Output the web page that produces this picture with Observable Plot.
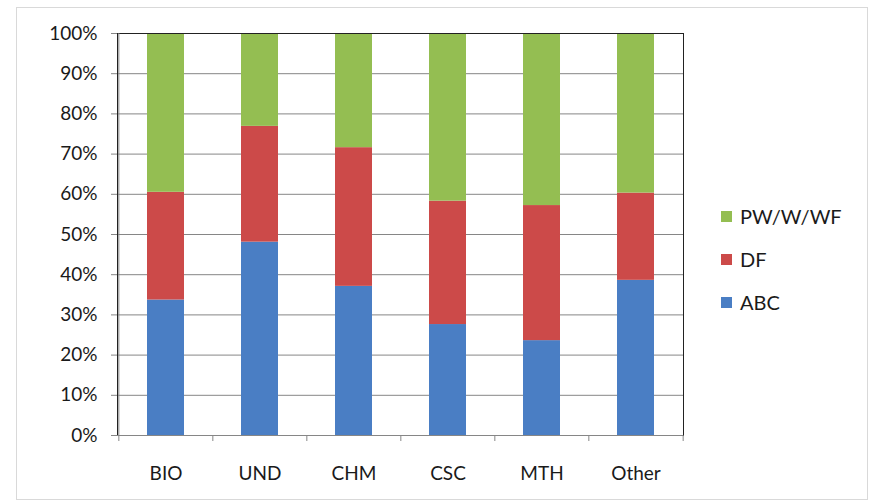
<!DOCTYPE html>
<html>
<head>
<meta charset="utf-8">
<script src="https://cdn.jsdelivr.net/npm/d3@7"></script>
<script src="https://cdn.jsdelivr.net/npm/@observablehq/plot@0.6"></script>
<style>
  html, body { margin: 0; padding: 0; background: #fff; }
  #chart { position: relative; width: 872px; height: 502px; font-family: Lato, "Open Sans", sans-serif; }
  #chart .border { position: absolute; left: 16px; top: 7px; width: 852px; height: 493px; border: 1px solid #d9d9d9; box-sizing: border-box; pointer-events: none; }
  #chart svg { position: absolute; left: 0; top: 0; }
  .legend { position: absolute; left: 721px; top: 0; font-size: 20px; color: #1a1a1a; }
  .legend .item { position: absolute; display: flex; align-items: center; white-space: nowrap; transform: translateY(-50%); }
  .legend .sw { width: 11px; height: 11px; margin-right: 8px; }
</style>
</head>
<body>
<div id="chart"><div class="border"></div></div>
<script>
// Departments along the x axis
const departments = ["BIO", "UND", "CHM", "CSC", "MTH", "Other"];
// Stacked series, bottom to top
const seriesNames = ["ABC", "DF", "PW/W/WF"];
const seriesColors = ["#4A7EC4", "#CC4A49", "#94BE52"];
// Share of each department in percent
const abc = [33.7, 48.1, 37.1, 27.6, 23.6, 38.6];
const df  = [26.8, 28.8, 34.5, 30.7, 33.6, 21.7];
const pw  = [39.5, 23.1, 28.4, 41.7, 42.8, 39.7];
// Y tick values
const yTicks = d3.range(0, 1.0001, 0.1);

const seriesValues = [abc, df, pw];
const rows = [];
seriesNames.forEach((s, i) => {
  departments.forEach((d, j) => rows.push({dept: d, series: s, value: seriesValues[i][j] / 100}));
});

const W = 872, H = 502, ML = 117, MR = 189, MT = 33, MB = 67;
const step = (W - ML - MR) / departments.length;
const gap = 0.61;

const plot = Plot.plot({
  width: W,
  height: H,
  marginLeft: ML,
  marginRight: MR,
  marginTop: MT,
  marginBottom: MB,
  style: {fontFamily: "Lato, 'Open Sans', sans-serif", fontSize: "19px", color: "#1a1a1a", background: "transparent"},
  x: {domain: departments, paddingInner: gap, paddingOuter: gap / 2, label: null},
  y: {domain: [0, 1], label: null},
  color: {domain: seriesNames, range: seriesColors},
  marks: [
    Plot.ruleY(yTicks, {stroke: "#868686", strokeWidth: 1}),
    Plot.barY(rows, {x: "dept", y: "value", fill: "series", order: seriesNames}),
    Plot.frame({stroke: "#222", strokeWidth: 1}),
    Plot.ruleX([departments[0]], {stroke: "#868686", dx: -step / 2}),
    Plot.ruleY([0], {stroke: "#868686"}),
    Plot.axisY(yTicks, {tickFormat: d3.format(".0%"), tickSize: 6, tickPadding: 14, stroke: "#868686", fill: "#1a1a1a", label: null}),
    Plot.axisX({tickSize: 0, tickPadding: 31, fill: "#1a1a1a", label: null}),
    Plot.axisX(departments, {tickSize: 6, text: null, dx: -step / 2, stroke: "#868686", label: null}),
    Plot.axisX([departments[departments.length - 1]], {tickSize: 6, text: null, dx: step / 2, stroke: "#868686", label: null})
  ]
});

const chart = document.getElementById("chart");
chart.appendChild(plot);

// Legend, top entry first
const legend = document.createElement("div");
legend.className = "legend";
const legendY = [216, 259, 302];
seriesNames.slice().reverse().forEach((s, i) => {
  const item = document.createElement("div");
  item.className = "item";
  item.style.top = legendY[i] + "px";
  const sw = document.createElement("span");
  sw.className = "sw";
  sw.style.background = seriesColors[seriesNames.length - 1 - i];
  const label = document.createElement("span");
  label.textContent = s;
  item.appendChild(sw);
  item.appendChild(label);
  legend.appendChild(item);
});
chart.appendChild(legend);
</script>
</body>
</html>
